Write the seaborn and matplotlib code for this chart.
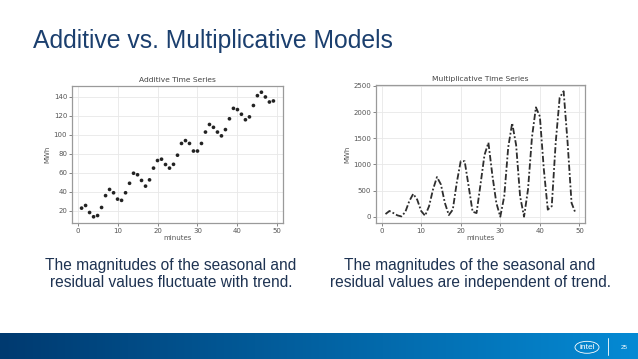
import numpy as np
import pandas as pd
import matplotlib
matplotlib.use('Agg')
import matplotlib.pyplot as plt
from matplotlib.patches import Ellipse
import seaborn as sns

# data
minutes = list(range(1, 50))
additive = [22.8, 25.6, 18.2, 13.7, 15.0, 23.5, 36.0, 42.5, 39.0, 32.3,
            31.0, 39.0, 49.0, 59.6, 58.0, 52.0, 46.0, 52.6, 65.0, 73.0,
            74.4, 68.8, 65.0, 69.0, 78.6, 91.0, 94.0, 91.0, 83.0, 83.0,
            91.0, 103.0, 111.0, 108.0, 103.0, 99.0, 105.6, 117.0, 128.0, 126.7,
            121.8, 116.0, 119.0, 131.0, 141.4, 145.0, 140.0, 134.7, 135.8]
multiplicative = [51, 110, 70, 26, 6, 90, 296, 437, 328, 110,
                  19, 200, 520, 758, 617, 264, 32, 135, 650, 1061,
                  1061, 585, 96, 70, 617, 1177, 1415, 790, 264, 0,
                  392, 1325, 1788, 1370, 392, 0, 520, 1517, 2090, 1915,
                  906, 135, 200, 1421, 2275, 2397, 1421, 264, 70]

slide_title = "Additive vs. Multiplicative Models"
left_caption = "The magnitudes of the seasonal and\nresidual values fluctuate with trend."
right_caption = "The magnitudes of the seasonal and\nresidual values are independent of trend."

df = pd.DataFrame({'minutes': minutes, 'add': additive, 'mult': multiplicative})

sns.set_theme(style="whitegrid")
plt.rcParams['font.family'] = ['Liberation Sans', 'DejaVu Sans']

W, H = 638, 359
fig = plt.figure(figsize=(W / 100, H / 100), dpi=100)


def px_axes(x0, y0, x1, y1):
    return fig.add_axes([x0 / W, 1 - y1 / H, (x1 - x0) / W, (y1 - y0) / H])


def style_small(ax, title):
    ax.set_facecolor('white')
    ax.grid(True, color='#e8e8e8', linewidth=0.6)
    for s in ax.spines.values():
        s.set_color('#9a9a9a')
        s.set_linewidth(0.9)
    ax.tick_params(labelsize=5, colors='#555555', length=2, width=0.5,
                   pad=1.5, bottom=True, left=True)
    ax.set_title(title, fontsize=5.4, color='#444444', pad=3,
                 family='DejaVu Sans')
    ax.set_xlabel('minutes', fontsize=5, color='#555555', labelpad=1)
    ax.set_ylabel('MWh', fontsize=5, color='#555555', labelpad=2)
    for lab in ax.get_xticklabels() + ax.get_yticklabels():
        lab.set_family('DejaVu Sans')
    ax.xaxis.label.set_family('DejaVu Sans')
    ax.yaxis.label.set_family('DejaVu Sans')


# left: additive scatter
ax1 = px_axes(72, 86, 283, 223)
sns.scatterplot(data=df, x='minutes', y='add', ax=ax1, color='#222222',
                s=7, edgecolor='none')
ax1.set_xticks([0, 10, 20, 30, 40, 50])
ax1.set_yticks([20, 40, 60, 80, 100, 120, 140])
style_small(ax1, 'Additive Time Series')

# right: multiplicative line
ax2 = px_axes(376, 85, 585, 223)
sns.lineplot(data=df, x='minutes', y='mult', ax=ax2, color='#2e2e2e',
             linewidth=1.3)
ax2.lines[0].set_dashes([3.5, 1.2, 1, 1.2])
ax2.set_xticks([0, 10, 20, 30, 40, 50])
ax2.set_yticks([0, 500, 1000, 1500, 2000, 2500])
style_small(ax2, 'Multiplicative Time Series')

# slide title and captions
fig.text(33 / W, 1 - 41 / H, slide_title, fontsize=17.8, color='#1b3f6e',
         ha='left', va='center')
fig.text(171 / W, 1 - 274 / H, left_caption, fontsize=11.2, color='#1e3352',
         ha='center', va='center', linespacing=1.2)
fig.text(470 / W, 1 - 274 / H, right_caption, fontsize=11.2, color='#1e3352',
         ha='center', va='center', linespacing=1.2)

# bottom gradient bar
bar = px_axes(0, 333, W, H)
c0 = np.array([0, 58, 112]) / 255
c1 = np.array([5, 138, 212]) / 255
t = np.linspace(0, 1, 256)
grad = (c0[None, :] * (1 - t[:, None]) + c1[None, :] * t[:, None])[None, :, :]
bar.imshow(grad, aspect='auto', extent=[0, W, 0, 1])
bar.set_xlim(0, W)
bar.set_ylim(0, 1)
bar.axis('off')
bar.add_patch(Ellipse((587, 0.45), 24, 0.46, fill=False, edgecolor='white',
                      linewidth=0.6))
bar.text(587, 0.45, 'intel', color='white', fontsize=6, ha='center', va='center')
bar.plot([608, 608], [0.15, 0.8], color='white', linewidth=0.6)
bar.text(624, 0.45, '25', color='white', fontsize=4.5, ha='center', va='center')

fig.savefig('out.png', dpi=100, facecolor='white')
